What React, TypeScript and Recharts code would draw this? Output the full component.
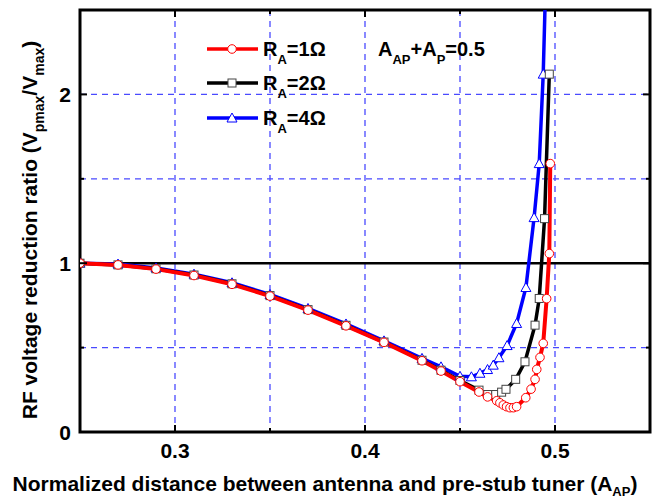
import React from "react"
import {
 LineChart,
 Line,
 XAxis,
 YAxis,
 CartesianGrid,
 ReferenceLine,
 ReferenceArea
} from "recharts"

// axis ticks
const xTicks = [0.25, 0.3, 0.35, 0.4, 0.45, 0.5, 0.55]
const xLabels = [0.3, 0.4, 0.5]
const yTicks = [0, 0.5, 1, 1.5, 2, 2.5]
const yLabels = [0, 1, 2]

// R_A = 1 ohm
const redX = [0.25, 0.27, 0.29, 0.31, 0.33, 0.35, 0.37, 0.39, 0.41, 0.43, 0.44, 0.45, 0.46, 0.4645, 0.4693, 0.471, 0.4728, 0.4745, 0.4763, 0.4781, 0.4798, 0.4846, 0.4874, 0.4895, 0.4904, 0.4921, 0.4938, 0.4956, 0.497, 0.4975]
const redY = [1.0, 0.99, 0.965, 0.927, 0.875, 0.805, 0.722, 0.629, 0.531, 0.422, 0.361, 0.298, 0.237, 0.208, 0.185, 0.173, 0.16, 0.15, 0.144, 0.144, 0.15, 0.203, 0.254, 0.312, 0.371, 0.442, 0.525, 0.79, 1.057, 1.59]

// R_A = 2 ohm
const blackX = [0.25, 0.27, 0.29, 0.31, 0.33, 0.35, 0.37, 0.39, 0.41, 0.43, 0.44, 0.45, 0.46, 0.4646, 0.4688, 0.4719, 0.4742, 0.4793, 0.4842, 0.4895, 0.4917, 0.4945, 0.497]
const blackY = [1.0, 0.99, 0.967, 0.93, 0.878, 0.808, 0.725, 0.632, 0.533, 0.425, 0.366, 0.305, 0.248, 0.222, 0.222, 0.236, 0.253, 0.312, 0.416, 0.633, 0.791, 1.264, 2.12]

// R_A = 4 ohm
const blueX = [0.25, 0.27, 0.29, 0.31, 0.33, 0.35, 0.37, 0.39, 0.41, 0.43, 0.44, 0.45, 0.456, 0.4605, 0.4645, 0.4675, 0.4705, 0.4748, 0.4798, 0.4847, 0.489, 0.4917, 0.4938, 0.4953]
const blueY = [1.0, 0.995, 0.972, 0.935, 0.884, 0.815, 0.732, 0.64, 0.54, 0.436, 0.386, 0.33, 0.327, 0.348, 0.37, 0.396, 0.44, 0.512, 0.643, 0.856, 1.27, 1.59, 2.12, 2.75]

const toRows = (xs: number[], ys: number[]) => xs.map((x, i) => ({ x, y: ys[i] }))
const redData = toRows(redX, redY)
const blackData = toRows(blackX, blackY)
const blueData = toRows(blueX, blueY)

const W = 656
const H = 501
const LEFT = 80
const RIGHT = 650
const TOP = 10
const BOTTOM = 432

const FONT = "'Liberation Sans', Arial, sans-serif"
const RED = "#ff0000"
const BLACK = "#000000"
const BLUE = "#0000ff"

const isMajor = (v: number, list: number[]) => list.some(l => Math.abs(l - v) < 1e-9)

const XTick = (p: any) => {
 const v = p.payload.value
 const major = isMajor(v, xLabels)
 const len = major ? 7 : 4
 return (
  <g>
   <line x1={p.x} x2={p.x} y1={BOTTOM} y2={BOTTOM - len} stroke={BLACK} strokeWidth={2} />
   <line x1={p.x} x2={p.x} y1={TOP} y2={TOP + len} stroke={BLACK} strokeWidth={2} />
   {major && (
    <text x={p.x} y={458} textAnchor="middle" fontFamily={FONT} fontWeight="bold" fontSize={21} fill={BLACK}>
     {v.toFixed(1)}
    </text>
   )}
  </g>
 )
}

const YTick = (p: any) => {
 const v = p.payload.value
 const major = isMajor(v, yLabels)
 const len = major ? 7 : 4
 return (
  <g>
   <line x1={LEFT} x2={LEFT + len} y1={p.y} y2={p.y} stroke={BLACK} strokeWidth={2} />
   <line x1={RIGHT} x2={RIGHT - len} y1={p.y} y2={p.y} stroke={BLACK} strokeWidth={2} />
   {major && (
    <text x={71} y={p.y + 7.5} textAnchor="end" fontFamily={FONT} fontWeight="bold" fontSize={21} fill={BLACK}>
     {v}
    </text>
   )}
  </g>
 )
}

const CircleDot = (p: any) => (
 <circle key={p.index} cx={p.cx} cy={p.cy} r={4.3} fill="#fff" stroke={RED} strokeWidth={1} />
)

const SquareDot = (p: any) => (
 <rect key={p.index} x={p.cx - 4} y={p.cy - 4} width={8} height={8} fill="#fff" stroke="#444" strokeWidth={1} />
)

const TriDot = (p: any) => (
 <polygon
  key={p.index}
  points={`${p.cx},${p.cy - 5} ${p.cx - 5},${p.cy + 4} ${p.cx + 5},${p.cy + 4}`}
  fill="#fff"
  stroke={BLUE}
  strokeWidth={1}
 />
)

const LegendRow = ({ y, color, num, marker }: { y: number; color: string; num: string; marker: string }) => (
 <g>
  <line x1={207} x2={258} y1={y} y2={y} stroke={color} strokeWidth={3.5} />
  {marker === "circle" && <circle cx={232} cy={y} r={4.3} fill="#fff" stroke={RED} strokeWidth={1} />}
  {marker === "square" && <rect x={228} y={y - 4} width={8} height={8} fill="#fff" stroke="#444" strokeWidth={1} />}
  {marker === "tri" && (
   <polygon points={`232,${y - 5} 227,${y + 4} 237,${y + 4}`} fill="#fff" stroke={BLUE} strokeWidth={1} />
  )}
  <text x={263} y={y + 7} fontFamily={FONT} fontWeight="bold" fontSize={20} fill={BLACK}>
   R<tspan dy={8} fontSize={13}>A</tspan>
   <tspan dy={-8}>={num}Ω</tspan>
  </text>
 </g>
)

export default function App() {
 return (
  <div style={{ position: "absolute", left: 0, top: 0, width: W, height: H, background: "#fff" }}>
   <LineChart width={W} height={H} margin={{ top: TOP, right: W - RIGHT, bottom: 0, left: 0 }}>
    <CartesianGrid
     xAxisId="b"
     yAxisId="l"
     stroke="#4a4aff"
     strokeWidth={1.3}
     strokeDasharray="6 5"
    />
    <XAxis
     xAxisId="b"
     dataKey="x"
     type="number"
     domain={[0.25, 0.55]}
     ticks={xTicks}
     interval={0}
     height={H - BOTTOM}
     axisLine={false}
     tickLine={false}
     tick={XTick}
     allowDataOverflow
    />
    <YAxis
     yAxisId="l"
     type="number"
     domain={[0, 2.5]}
     ticks={yTicks}
     interval={0}
     width={LEFT}
     axisLine={false}
     tickLine={false}
     tick={YTick}
     allowDataOverflow
    />
    <ReferenceLine xAxisId="b" yAxisId="l" y={1} stroke={BLACK} strokeWidth={2.5} />
    <Line xAxisId="b" yAxisId="l" data={blueData} dataKey="y" type="linear" stroke={BLUE} strokeWidth={3.5} dot={TriDot} activeDot={false} isAnimationActive={false} />
    <Line xAxisId="b" yAxisId="l" data={blackData} dataKey="y" type="linear" stroke={BLACK} strokeWidth={3.5} dot={SquareDot} activeDot={false} isAnimationActive={false} />
    <Line xAxisId="b" yAxisId="l" data={redData} dataKey="y" type="linear" stroke={RED} strokeWidth={4} dot={CircleDot} activeDot={false} isAnimationActive={false} />
    <ReferenceArea
     xAxisId="b"
     yAxisId="l"
     x1={0.25}
     x2={0.55}
     y1={0}
     y2={2.5}
     fill="none"
     stroke={BLACK}
     strokeWidth={3}
     ifOverflow="visible"
    />
   </LineChart>
   <svg width={W} height={H} style={{ position: "absolute", left: 0, top: 0, pointerEvents: "none" }}>
    <LegendRow y={49} color={RED} num="1" marker="circle" />
    <LegendRow y={83} color={BLACK} num="2" marker="square" />
    <LegendRow y={118} color={BLUE} num="4" marker="tri" />
    <text x={378} y={56} fontFamily={FONT} fontWeight="bold" fontSize={20} fill={BLACK}>
     A<tspan dy={8} fontSize={13}>AP</tspan>
     <tspan dy={-8}>+A</tspan>
     <tspan dy={8} fontSize={13}>P</tspan>
     <tspan dy={-8}>=0.5</tspan>
    </text>
    <text x={325} y={491} textAnchor="middle" fontFamily={FONT} fontWeight="bold" fontSize={21} fill={BLACK}>
     Normalized distance between antenna and pre-stub tuner (A<tspan dy={5} fontSize={13}>AP</tspan>
     <tspan dy={-5}>)</tspan>
    </text>
    <text
     transform="translate(37,230) rotate(-90)"
     textAnchor="middle"
     fontFamily={FONT}
     fontWeight="bold"
     fontSize={21}
     fill={BLACK}
    >
     RF voltage reduction ratio (V<tspan dy={7} fontSize={14}>pmax</tspan>
     <tspan dy={-7}>/V</tspan>
     <tspan dy={7} fontSize={14}>max</tspan>
     <tspan dy={-7}>)</tspan>
    </text>
   </svg>
  </div>
 )
}
